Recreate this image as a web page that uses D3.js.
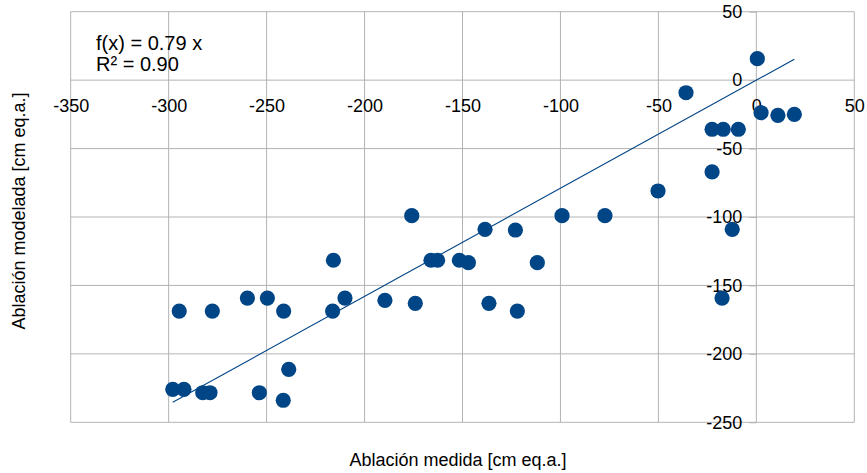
<!DOCTYPE html>
<html>
<head>
<meta charset="utf-8">
<script src="https://cdn.jsdelivr.net/npm/d3@7"></script>
<style>
  body { margin: 0; background: #fff; }
  text { font-family: "Liberation Sans", Arial, sans-serif; fill: #000; }
</style>
</head>
<body>
<div id="chart"></div>
<script>
  var medida = [-297.9, -292.2, -282.6, -278.9, -294.6, -277.7, -259.8, -249.6, -241.3, -253.7,
                -241.5, -238.7, -215.9, -216.3, -210, -189.6, -174.1, -175.9, -166.1, -162.7,
                -151.6, -147, -138.5, -123, -111.8, -136.5, -122, -99.2, -77.3, -50.2,
                -22.6, -12.3, -17.5, -35.9, 0.5, -22.6, -16.9, -9.2, 2.4, 11, 19.4];
  var modelada = [-225.9, -225.9, -228.4, -228.4, -168.7, -168.7, -159.2, -159.2, -168.7, -228.4,
                  -233.9, -211.3, -131.6, -168.7, -159.2, -160.9, -163.1, -99, -131.6, -131.6,
                  -131.6, -133.4, -109, -109.5, -133.4, -163.1, -168.7, -99, -99, -81,
                  -67.1, -109, -159.2, -9.2, 15.7, -35.9, -35.9, -35.9, -23.8, -25.7, -25];
  var xTicks = [-350, -300, -250, -200, -150, -100, -50, 0, 50];
  var yTicks = [50, 0, -50, -100, -150, -200, -250];
  var slope = 0.79;
  var eqLines = ["f(x) = 0.79 x", "R² = 0.90"];

  (function() {
    var width = 867, height = 473;
    var pLeft = 70.7, pRight = 854.3, pTop = 11.7, pBottom = 422.3;

    var svg = d3.select("#chart").append("svg")
        .attr("width", width)
        .attr("height", height);

    var x = d3.scaleLinear().domain([-350, 50]).range([pLeft, pRight]);
    var y = d3.scaleLinear().domain([-250, 50]).range([pBottom, pTop]);

    var grid = "#b3b3b3";
    var plain = function(d) { return String(d); }; // keep the hyphen minus

    // vertical gridlines
    svg.append("g")
      .selectAll("line")
      .data(xTicks)
      .enter().append("line")
      .attr("x1", function(d) { return x(d); })
      .attr("x2", function(d) { return x(d); })
      .attr("y1", pTop)
      .attr("y2", pBottom)
      .attr("stroke", grid)
      .attr("stroke-width", 1)

    // horizontal gridlines
    svg.append("g")
      .selectAll("line")
      .data(yTicks)
      .enter().append("line")
      .attr("x1", pLeft)
      .attr("x2", pRight)
      .attr("y1", function(d) { return y(d); })
      .attr("y2", function(d) { return y(d); })
      .attr("stroke", grid)
      .attr("stroke-width", 1)

    // x axis labels sit on the y=0 line
    var xAxis = svg.append("g")
      .attr("transform", "translate(0," + y(0) + ")")
      .call(d3.axisBottom(x).tickValues(xTicks).tickFormat(plain).tickSize(0).tickPadding(19));
    xAxis.select(".domain").remove();
    xAxis.selectAll("text")
      .style("font-size", "18px")
      .style("font-family", "'Liberation Sans', Arial, sans-serif")
      .attr("fill", "#000");

    // y axis labels sit on the x=0 line
    var yAxis = svg.append("g")
      .attr("transform", "translate(" + x(0) + ",0)")
      .call(d3.axisLeft(y).tickValues(yTicks).tickFormat(plain).tickSize(7).tickPadding(7));
    yAxis.select(".domain").remove();
    yAxis.selectAll("line").attr("stroke", grid);
    yAxis.selectAll("text")
      .style("font-size", "18px")
      .style("font-family", "'Liberation Sans', Arial, sans-serif")
      .attr("fill", "#000");

    // trend line through the origin
    var xr = d3.extent(medida);
    svg.append("line")
      .attr("x1", x(xr[0]))
      .attr("y1", y(slope * xr[0]))
      .attr("x2", x(xr[1]))
      .attr("y2", y(slope * xr[1]))
      .attr("stroke", "#004586")
      .attr("stroke-width", 1.1)

    svg.append("g")
      .selectAll("circle")
      .data(medida)
      .enter().append("circle")
      .attr("cx", function(d) { return x(d); })
      .attr("cy", function(d, i) { return y(modelada[i]); })
      .attr("r", 7.6)
      .attr("fill", "#004586")

    // regression text
    svg.append("g")
      .selectAll("text")
      .data(eqLines)
      .enter().append("text")
      .attr("x", 96)
      .attr("y", function(d, i) { return 50 + i * 20.5; })
      .style("font-size", "20px")
      .text(function(d) { return d; })

    svg.append("text")
      .attr("x", 458)
      .attr("y", 466)
      .attr("text-anchor", "middle")
      .style("font-size", "18px")
      .text("Ablación medida [cm eq.a.]")

    svg.append("text")
      .attr("transform", "translate(25,211)rotate(-90)")
      .attr("text-anchor", "middle")
      .style("font-size", "18px")
      .text("Ablación modelada [cm eq.a.]")
  })();
</script>
</body>
</html>
